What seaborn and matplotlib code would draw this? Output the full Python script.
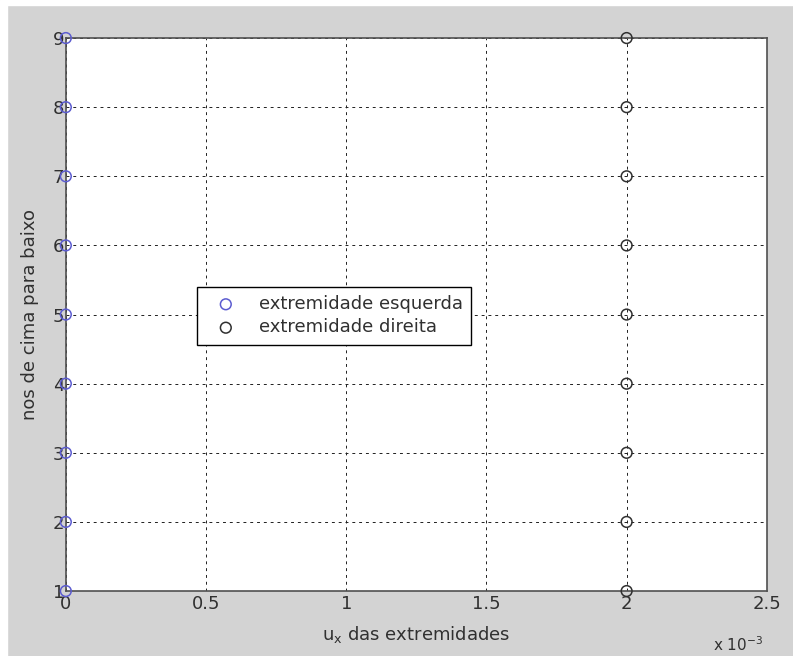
import numpy as np
import matplotlib
matplotlib.use('Agg')
import matplotlib.pyplot as plt
import matplotlib.ticker as mticker
from matplotlib.patches import Rectangle
import seaborn as sns

# nodes from top to bottom and u_x of each end
nodes = [1, 2, 3, 4, 5, 6, 7, 8, 9]
ux_left = [0, 0, 0, 0, 0, 0, 0, 0, 0]
ux_right = [0.002, 0.002, 0.002, 0.002, 0.002, 0.002, 0.002, 0.002, 0.002]
xticks = [0, 0.0005, 0.001, 0.0015, 0.002, 0.0025]

sns.set_style('white')
plt.rcParams['font.family'] = ['DejaVu Sans']

fig = plt.figure(figsize=(7.93, 6.56), dpi=100, facecolor='#d3d3d3')
# thin white strips at top and left edges of the screenshot
fig.patches.append(Rectangle((0, 0), 0.009, 1, transform=fig.transFigure,
                             color='white', zorder=-1))
fig.patches.append(Rectangle((0, 0.992), 1, 0.008, transform=fig.transFigure,
                             color='white', zorder=-1))
ax = fig.add_axes([0.083, 0.099, 0.884, 0.843])
ax.set_facecolor('white')

sns.scatterplot(x=ux_left, y=nodes, ax=ax, marker='o', s=60, facecolors='none',
                edgecolor='#5c5cd0', linewidth=1.1, clip_on=False, zorder=5,
                label='extremidade esquerda')
sns.scatterplot(x=ux_right, y=nodes, ax=ax, marker='o', s=60, facecolors='none',
                edgecolor='#303030', linewidth=1.1, clip_on=False, zorder=5,
                label='extremidade direita')

ax.set_xlim(0, 0.0025)
ax.set_ylim(1, 9)
ax.set_xticks(xticks)
ax.set_yticks(nodes)
ax.xaxis.set_major_formatter(mticker.FuncFormatter(lambda v, p: f'{v * 1e3:g}'))
ax.grid(True, color='#202020', linestyle=(0, (3, 4)), linewidth=0.7)
ax.tick_params(axis='both', labelsize=13, colors='#303030', length=4,
               direction='in', pad=1)
ax.tick_params(axis='x', pad=3)
for s in ax.spines.values():
    s.set_color('#505050')
    s.set_linewidth(1.2)

ax.set_xlabel('u$_{\\mathregular{x}}$ das extremidades', fontsize=13,
              color='#303030', labelpad=8)
ax.set_ylabel('nos de cima para baixo', fontsize=13, color='#303030', labelpad=10)
fig.text(0.899, 0.008, 'x 10$^{\\mathregular{-3}}$', fontsize=11, color='#303030')

leg = ax.legend(loc='upper left', bbox_to_anchor=(0.187, 0.55), borderaxespad=0,
                fontsize=13, frameon=True, fancybox=False, edgecolor='black',
                framealpha=1, handletextpad=0.7, borderpad=0.45, labelspacing=0.3,
                handlelength=2.3)
leg.get_frame().set_linewidth(1.0)
for t in leg.get_texts():
    t.set_color('#303030')

fig.savefig('out.png', dpi=100, facecolor=fig.get_facecolor())
